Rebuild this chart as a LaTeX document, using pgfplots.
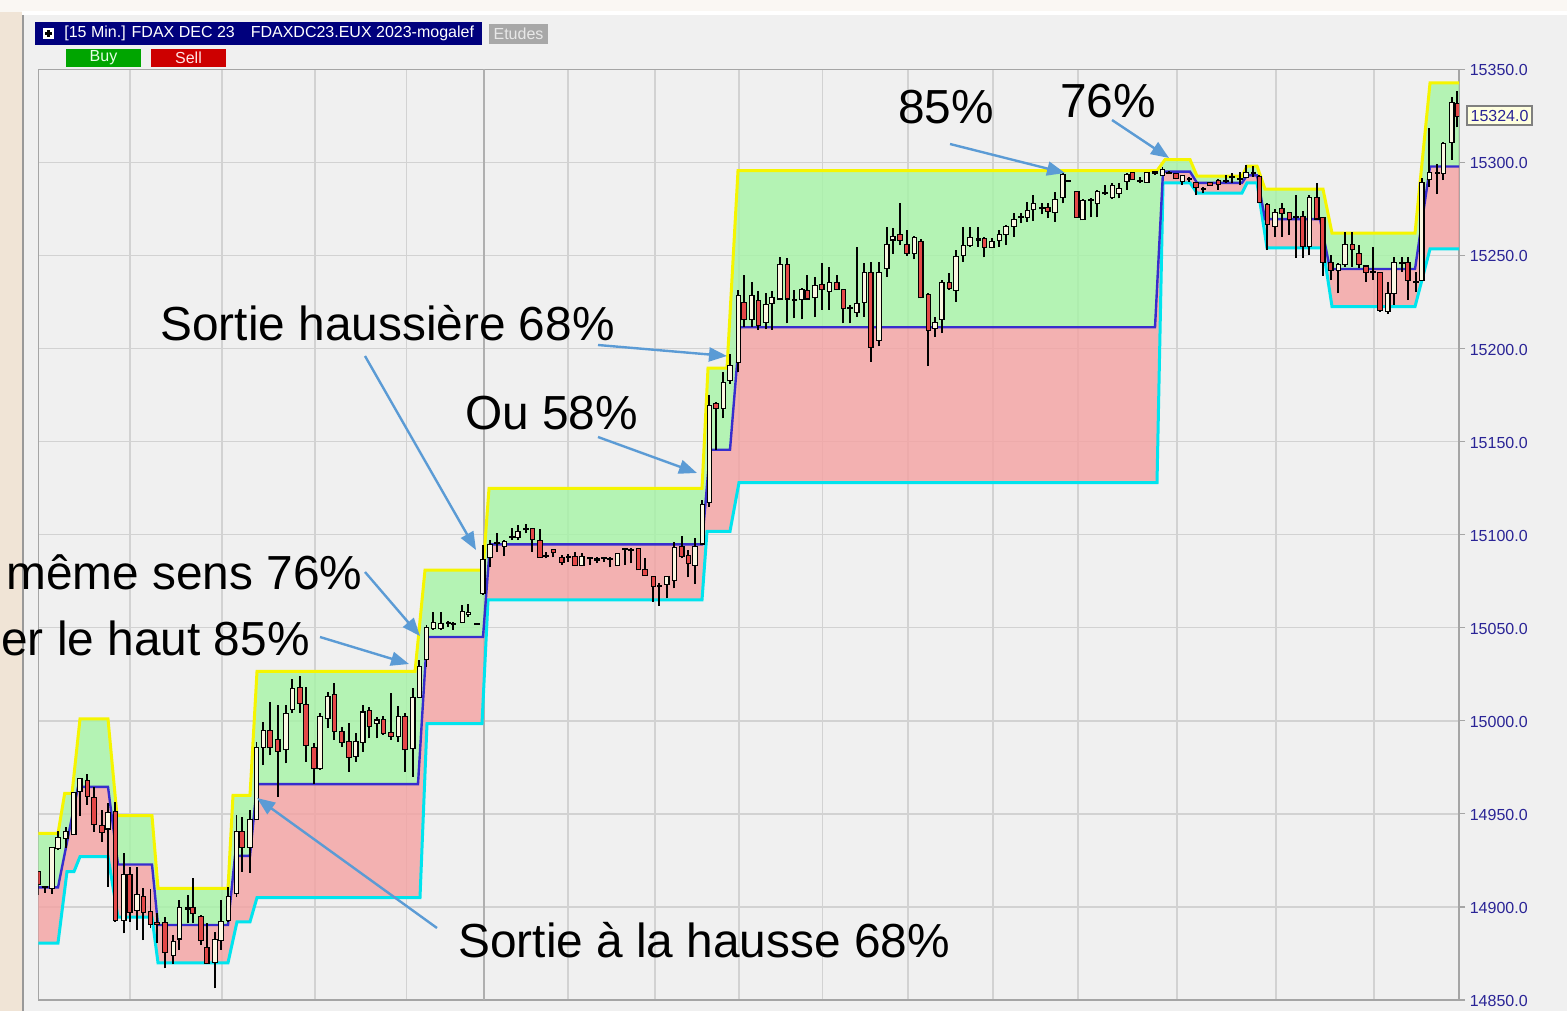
\documentclass[border=0pt]{standalone}
\usepackage{pgfplots}
\pgfplotsset{compat=1.18}
\usepackage{pgfplotstable}
\usetikzlibrary{arrows.meta}
\usepackage{fontspec}
\setmainfont{Liberation Sans}

\definecolor{outerbg}{RGB}{240,228,214}
\definecolor{bgpanel}{RGB}{240,240,240}
\definecolor{gridgray}{RGB}{210,210,210}
\definecolor{daygray}{RGB}{175,175,175}
\definecolor{bordergray}{RGB}{165,165,165}
\definecolor{greenfill}{RGB}{165,244,165}
\definecolor{redfill}{RGB}{244,162,162}
\definecolor{yel}{RGB}{245,245,0}
\definecolor{bandblue}{RGB}{55,45,205}
\definecolor{bandcyan}{RGB}{0,228,238}
\definecolor{cream}{RGB}{250,247,226}
\definecolor{candred}{RGB}{228,72,72}
\definecolor{tickblue}{RGB}{42,36,150}
\definecolor{arrowblue}{RGB}{91,155,213}
\definecolor{navyhead}{RGB}{0,0,125}
\definecolor{etudesgray}{RGB}{168,168,168}
\definecolor{etudestext}{RGB}{232,232,232}
\definecolor{buygreen}{RGB}{0,165,0}
\definecolor{sellred}{RGB}{205,0,0}
\definecolor{pricebox}{RGB}{255,255,222}

% upper band (yellow)
\pgfplotstableread{
x y
38.3 14939.5
58 14939.5
64.7 14961
72 14961
80 15001
108 15001
117 14949
152 14949
158 14910
228 14910
233 14960
250 14960
257 15026.5
415 15026.5
425 15081
483 15081
489 15124.8
702 15124.8
708 15189.5
727 15189.5
738 15295.5
1157 15295.5
1165 15301.5
1190 15301.5
1197 15292.6
1242 15292.6
1247 15298
1257 15298
1265 15285.6
1323 15285.6
1332 15262
1415 15262
1430 15342.7
1459 15342.7
}\yellowband

% middle band (blue)
\pgfplotstableread{
x y
38.3 14910.5
58 14910.5
78 14964.5
108 14964.5
118 14922.8
152 14922.8
158 14890.3
228 14890.3
235 14927.4
250 14927.4
257 14966
418 14966
427 15045
483 15045
490 15094.8
702 15094.8
710 15145.6
730 15145.6
740 15211.4
1155 15211.4
1163 15295
1190 15295
1197 15289
1242 15289
1247 15293
1257 15293
1265 15269.5
1320 15269.5
1330 15242.7
1415 15242.7
1430 15297.8
1459 15297.8
}\blueband

% lower band (cyan)
\pgfplotstableread{
x y
38.3 14880.6
58 14880.6
67 14919
74 14919
80 14927
108 14927
118 14894.5
152 14894.5
158 14870
228 14870
237 14892
250 14892
257 14905
420 14905
427 14998.5
482 14998.5
488 15064.9
702 15064.9
707 15101.8
730 15101.8
739 15128
1157 15128
1163 15289
1190 15289
1197 15283.5
1242 15283.5
1247 15289
1257 15289
1267 15254
1323 15254
1332 15222.5
1415 15222.5
1430 15253.5
1459 15253.5
}\cyanband

% green zone: yellow band forward, blue band back
\pgfplotstableread{
x y
38.3 14939.5
58 14939.5
64.7 14961
72 14961
80 15001
108 15001
117 14949
152 14949
158 14910
228 14910
233 14960
250 14960
257 15026.5
415 15026.5
425 15081
483 15081
489 15124.8
702 15124.8
708 15189.5
727 15189.5
738 15295.5
1157 15295.5
1165 15301.5
1190 15301.5
1197 15292.6
1242 15292.6
1247 15298
1257 15298
1265 15285.6
1323 15285.6
1332 15262
1415 15262
1430 15342.7
1459 15342.7
1459 15297.8
1430 15297.8
1415 15242.7
1330 15242.7
1320 15269.5
1265 15269.5
1257 15293
1247 15293
1242 15289
1197 15289
1190 15295
1163 15295
1155 15211.4
740 15211.4
730 15145.6
710 15145.6
702 15094.8
490 15094.8
483 15045
427 15045
418 14966
257 14966
250 14927.4
235 14927.4
228 14890.3
158 14890.3
152 14922.8
118 14922.8
108 14964.5
78 14964.5
58 14910.5
38.3 14910.5
}\greenzone

% red zone: blue band forward, cyan band back
\pgfplotstableread{
x y
38.3 14910.5
58 14910.5
78 14964.5
108 14964.5
118 14922.8
152 14922.8
158 14890.3
228 14890.3
235 14927.4
250 14927.4
257 14966
418 14966
427 15045
483 15045
490 15094.8
702 15094.8
710 15145.6
730 15145.6
740 15211.4
1155 15211.4
1163 15295
1190 15295
1197 15289
1242 15289
1247 15293
1257 15293
1265 15269.5
1320 15269.5
1330 15242.7
1415 15242.7
1430 15297.8
1459 15297.8
1459 15253.5
1430 15253.5
1415 15222.5
1332 15222.5
1323 15254
1267 15254
1257 15289
1247 15289
1242 15283.5
1197 15283.5
1190 15289
1163 15289
1157 15128
739 15128
730 15101.8
707 15101.8
702 15064.9
488 15064.9
482 14998.5
427 14998.5
420 14905
257 14905
250 14892
237 14892
228 14870
158 14870
152 14894.5
118 14894.5
108 14927
80 14927
74 14919
67 14919
58 14880.6
38.3 14880.6
}\redzone

\pgfplotstableread{
x o h l c
38.3 14918.6 14919.3 14906.4 14912.3
44.7 14910.7 14911.5 14907.5 14910.7
52 14910.3 14932.1 14907.0 14931.5
58 14931.5 14940.8 14930.5 14937.2
65.7 14937.2 14943.1 14931.7 14940.4
73.7 14939.2 14961.9 14938.6 14961.4
79.7 14962.3 14969.1 14948.8 14968.7
87.3 14967.8 14971.4 14954.8 14959.6
94 14958.7 14964.6 14940.4 14944.5
102 14943.6 14952.0 14935.1 14940.4
108 14942.2 14955.7 14910.9 14950.3
115.3 14951.2 14956.5 14892.1 14893.0
123.7 14893.0 14928.8 14885.8 14917.1
129.7 14917.1 14921.4 14892.1 14897.4
137 14898.3 14921.6 14887.6 14906.4
143.3 14905.5 14910.0 14882.2 14897.4
150.5 14897.4 14909.5 14888.5 14890.8
157 14891.5 14896.6 14880.5 14891.0
165 14891.2 14894.7 14867.0 14875.6
173.3 14874.2 14884.9 14869.3 14881.3
179.3 14883.1 14903.7 14876.9 14899.2
187.7 14899.2 14906.4 14891.2 14899.2
192.7 14899.2 14915.4 14891.2 14896.6
201 14894.5 14895.7 14879.5 14882.2
206.7 14877.8 14891.2 14869.3 14870.0
215 14870.6 14886.7 14856.3 14882.2
221 14882.2 14903.7 14876.9 14892.1
228.3 14893.0 14910.9 14892.1 14905.5
236.5 14907.3 14949.4 14905.5 14940.4
242 14940.4 14948.5 14918.9 14932.4
250 14932.4 14952.1 14918.4 14946.7
256.5 14947.1 14988.8 14946.7 14985.2
263.3 14986.1 14999.5 14976.2 14994.7
270 14994.7 15010.2 14981.6 14985.8
277.7 14989.7 15008.5 14959.2 14983.8
286 14984.7 15008.5 14977.1 15003.6
292.3 15006.2 15022.3 15004.0 15016.9
300 15017.8 15024.1 15004.4 15009.7
306 15008.5 15018.3 14978.0 14987.0
314 14985.2 14987.9 14966.0 14974.5
320 14974.5 15004.0 14973.6 15002.2
327.7 15001.3 15015.6 14996.0 15012.9
334.3 15013.8 15020.1 14989.7 14994.7
341.7 14993.8 14996.8 14986.1 14988.8
349 14988.8 14999.0 14972.6 14980.7
355.7 14981.1 14993.3 14978.0 14988.8
362.7 14988.8 15008.5 14983.4 15004.4
369.3 15005.4 15007.5 14990.6 14997.2
376.7 14999.0 15002.2 14990.6 15000.1
383.3 15000.4 15002.5 14992.4 14993.6
391 14993.6 15015.1 14989.7 14992.0
398.3 14991.8 15007.9 14988.8 15001.9
405 15001.9 15004.0 14972.6 14984.7
412.7 14985.2 15017.5 14970.0 15012.1
419.3 15012.9 15032.6 15012.2 15029.1
426.5 15033.0 15051.5 15028.9 15049.8
433.3 15049.7 15058.6 15048.8 15052.4
440.7 15049.7 15058.6 15048.8 15052.0
448.3 15052.7 15053.8 15050.5 15052.7
453.3 15052.0 15053.2 15048.8 15052.0
462.3 15053.2 15062.2 15052.4 15058.6
468.3 15057.4 15062.7 15056.0 15057.9
476.7 15052.0 15052.6 15051.5 15052.0
482.7 15068.5 15094.4 15067.6 15086.4
490 15087.8 15097.1 15082.4 15094.4
496.7 15095.6 15101.0 15090.8 15095.6
504.3 15093.9 15097.1 15088.5 15096.2
511.7 15098.6 15103.4 15097.1 15098.6
517.7 15098.6 15105.2 15097.1 15101.6
526 15102.9 15105.7 15100.7 15102.9
532.3 15102.9 15103.4 15090.8 15097.5
540 15096.7 15102.9 15087.8 15088.1
546 15088.5 15090.8 15087.3 15088.5
553.3 15091.9 15091.9 15087.8 15090.5
561.7 15087.6 15089.0 15083.7 15085.4
568.3 15088.1 15089.6 15085.4 15088.1
575 15087.8 15090.8 15083.1 15083.7
581.7 15083.7 15090.0 15083.1 15087.8
590 15087.3 15088.1 15083.7 15087.3
596.7 15086.7 15088.1 15084.6 15086.7
604 15087.6 15088.1 15085.4 15087.6
610 15087.1 15087.8 15082.4 15087.1
617.3 15083.7 15090.0 15083.1 15089.6
625 15092.1 15092.6 15083.7 15092.1
630.7 15091.9 15092.6 15084.6 15091.9
638.3 15092.1 15092.1 15081.0 15081.4
645 15081.0 15087.3 15077.8 15078.3
653.3 15077.4 15077.8 15064.0 15072.4
659.3 15072.4 15073.9 15061.6 15072.4
666.7 15073.5 15077.4 15065.8 15077.1
674.3 15075.6 15096.2 15071.2 15092.6
681.7 15093.5 15099.3 15087.3 15088.5
688.3 15088.5 15091.7 15077.1 15084.6
695 15083.7 15098.0 15073.5 15093.5
702.3 15095.3 15118.6 15094.4 15115.9
709.3 15117.7 15175.0 15115.0 15169.1
716 15170.2 15171.2 15145.4 15167.9
723.3 15168.2 15187.5 15162.5 15181.6
730 15183.0 15197.0 15181.2 15190.6
738.3 15192.9 15231.4 15187.5 15228.2
744 15224.3 15239.5 15211.7 15215.7
751.7 15215.7 15235.9 15211.7 15228.2
758.3 15225.7 15231.0 15210.0 15212.6
766 15214.4 15229.6 15210.3 15223.4
771.7 15224.6 15231.0 15210.0 15226.9
780 15226.9 15249.3 15226.0 15244.9
787.3 15244.9 15248.4 15213.5 15226.9
794.3 15226.0 15231.4 15216.2 15226.0
801.7 15226.5 15232.3 15215.7 15231.4
807.3 15230.9 15239.5 15226.0 15226.9
815 15227.5 15238.6 15216.8 15233.6
821.7 15234.1 15246.1 15220.7 15231.8
829.3 15230.9 15243.6 15220.7 15235.0
836.7 15235.0 15239.5 15231.4 15231.8
843.3 15231.4 15231.8 15213.5 15221.6
850 15221.6 15223.4 15213.5 15221.6
856.7 15219.7 15254.4 15216.8 15223.9
864.3 15225.1 15246.1 15217.1 15240.7
870.7 15240.7 15246.6 15192.8 15201.0
879 15204.6 15246.6 15201.3 15240.7
886.7 15243.1 15265.4 15238.6 15255.6
892.7 15258.6 15264.6 15250.8 15260.0
900 15261.0 15278.0 15255.6 15258.3
906.7 15255.6 15263.7 15249.7 15251.5
914.3 15251.5 15260.4 15247.9 15259.2
920.7 15257.4 15258.6 15226.9 15227.5
928.3 15228.7 15229.6 15190.6 15210.0
935 15211.2 15217.1 15206.4 15213.9
941.7 15215.8 15236.8 15208.2 15235.0
949.3 15235.0 15240.7 15231.4 15232.6
956 15231.4 15252.9 15225.1 15249.3
963.3 15250.2 15265.1 15246.6 15255.0
970 15255.6 15265.4 15254.7 15259.2
978.3 15258.6 15265.1 15254.7 15258.6
984.3 15259.0 15260.1 15249.0 15254.7
991.7 15254.7 15259.2 15253.8 15257.4
999.3 15258.3 15263.7 15254.7 15261.0
1006 15261.5 15266.4 15255.6 15265.1
1014 15265.8 15272.6 15260.1 15269.0
1020.7 15270.5 15272.6 15267.3 15270.5
1027.3 15270.8 15278.9 15268.1 15274.0
1033.3 15274.8 15282.4 15268.7 15277.5
1041.7 15275.3 15278.3 15272.2 15275.3
1047.7 15275.6 15278.0 15270.0 15274.0
1055 15273.5 15284.2 15268.1 15279.8
1062.7 15281.2 15295.0 15278.0 15293.2
1068.3 15290.1 15290.5 15289.6 15290.1
1076.7 15284.2 15284.2 15270.5 15270.8
1082.7 15269.4 15280.2 15269.0 15279.4
1090.7 15279.8 15280.7 15270.5 15279.8
1097.3 15278.0 15285.2 15270.5 15284.2
1105 15283.4 15287.8 15282.4 15283.4
1112.3 15281.2 15288.7 15280.2 15287.3
1119 15283.4 15288.7 15280.7 15285.5
1126.7 15290.1 15294.1 15285.2 15293.2
1132.3 15294.1 15295.0 15290.5 15290.9
1140 15290.1 15292.3 15288.7 15290.1
1146.7 15289.6 15294.5 15289.1 15294.1
1155 15294.6 15295.3 15293.2 15294.6
1162.5 15293.2 15297.7 15292.7 15295.9
1169 15294.4 15295.3 15294.0 15294.4
1176 15293.6 15294.4 15290.9 15291.4
1182.3 15290.1 15293.2 15287.8 15292.6
1189.3 15290.9 15292.3 15289.6 15290.9
1196 15289.1 15289.6 15282.4 15286.6
1203.3 15285.5 15287.0 15283.4 15285.5
1210 15289.1 15289.1 15287.3 15287.8
1218.3 15290.1 15290.9 15285.2 15288.3
1226 15290.1 15293.2 15288.7 15290.1
1231.7 15292.0 15294.1 15289.1 15292.0
1240 15290.9 15295.0 15287.8 15290.9
1246 15292.0 15298.6 15291.4 15294.1
1253.3 15294.1 15298.0 15292.3 15294.1
1259.3 15292.3 15293.2 15278.3 15278.9
1267.3 15277.1 15278.0 15252.9 15266.9
1275 15265.8 15274.8 15260.1 15272.9
1281.7 15274.8 15278.3 15260.1 15272.9
1289.3 15272.9 15272.9 15261.0 15269.4
1296 15270.5 15282.4 15248.5 15270.5
1302.7 15270.8 15273.9 15248.5 15255.0
1309.3 15255.0 15282.4 15250.2 15280.7
1316.7 15280.7 15288.7 15269.4 15269.9
1322.7 15270.0 15270.8 15239.0 15246.6
1330.7 15245.8 15250.2 15236.8 15242.2
1338.3 15242.2 15245.8 15229.6 15244.9
1345 15245.4 15262.7 15244.0 15255.6
1352.3 15255.6 15262.7 15244.0 15253.3
1359 15250.8 15255.6 15243.1 15245.4
1366 15244.0 15244.3 15235.9 15241.3
1372.7 15241.3 15254.7 15236.8 15241.3
1380 15240.7 15241.3 15219.8 15220.7
1387.7 15220.3 15235.9 15218.5 15229.2
1394 15230.0 15249.3 15223.4 15245.8
1401.7 15245.8 15249.0 15241.3 15245.8
1407.7 15246.1 15249.3 15226.0 15236.8
1415.7 15235.9 15241.3 15230.5 15235.9
1421.7 15236.8 15291.4 15236.4 15289.1
1429.3 15290.9 15318.3 15287.0 15294.1
1437.3 15294.4 15299.1 15283.0 15294.4
1443.3 15294.4 15310.9 15290.5 15309.8
1451.7 15311.1 15334.9 15301.3 15331.7
1457.3 15331.4 15338.5 15318.8 15324.9
}\candles

\pgfplotsset{chartbase/.style={
  scale only axis, width=710.35pt, height=465.35pt,
  at={(19.15pt,-500pt)}, anchor=south west,
  xmin=38.3, xmax=1459, ymin=14850, ymax=15350,
  enlargelimits=false},
  candlebar/.style={draw=none, mark=none, forget plot,
    error bars/.cd, y dir=plus, y explicit, error mark=none,
    error bar style={line cap=butt, #1}}}

\begin{document}
\begin{tikzpicture}
\begin{scope}[x=0.5pt,y=-0.5pt]
  \fill[outerbg] (0,0) rectangle (1567,1011);
  \fill[white!70!outerbg] (0,0) rectangle (1567,12);
  \fill[bgpanel] (22,12) rectangle (1567,1011);
  \fill[gray!12] (22,1003) rectangle (1567,1011);
  \draw[gray!80, line width=1pt] (22.5,12) -- (22.5,1011);
  \draw[white, line width=2pt] (22,13) -- (1567,13);
  % header
  \fill[navyhead] (35,22) rectangle (482,45);
  \fill[white] (43,28) rectangle (54,39);
  \draw[black, line width=1.1pt] (45.2,33.5) -- (51.8,33.5) (48.5,30.2) -- (48.5,36.8);
  \node[anchor=west, text=white, font=\fontsize{8}{9}\selectfont, inner sep=0] at (64,33.5) {[15 Min.] FDAX DEC 23\quad FDAXDC23.EUX 2023-mogalef};
  \fill[etudesgray] (489,24) rectangle (548,44);
  \node[text=etudestext, font=\fontsize{8}{9}\selectfont, inner sep=0] at (518.5,34) {Etudes};
  \fill[buygreen] (66,49) rectangle (141,67);
  \node[text=white!90!green, font=\fontsize{8}{9}\selectfont, inner sep=0] at (103.5,58) {Buy};
  \fill[sellred] (151,49) rectangle (226,67);
  \node[text=white!90!red, font=\fontsize{8}{9}\selectfont, inner sep=0] at (188.5,58) {Sell};
\end{scope}

% axis 1: grid and ticks
\begin{axis}[chartbase,
  axis line style={draw=bordergray, line width=0.6pt},
  xtick={130,222,315,406.5,484,568,655,739,822.5,908,993,1078,1177,1276,1374},
  xticklabels={}, xtick style={draw=none},
  ytick={14850,14900,14950,15000,15050,15100,15150,15200,15250,15300,15350},
  scaled y ticks=false,
  ytick pos=right, yticklabel pos=right,
  tick align=outside, major tick length=3pt,
  ytick style={draw=bordergray, line width=0.6pt},
  xmajorgrids, ymajorgrids,
  grid style={draw=gridgray, line width=0.75pt},
  yticklabel style={font=\fontsize{8}{9}\selectfont, text=tickblue, inner sep=1.2pt, xshift=1pt, yshift=-0.5pt,
    /pgf/number format/.cd, fixed, fixed zerofill, precision=1, 1000 sep={}, assume math mode=true}]
  \addplot[daygray, line width=0.9pt, forget plot] coordinates {(484,14850) (484,15350)};
\end{axis}

% axis 2: zones and band lines
\begin{axis}[chartbase, hide axis]
  \addplot[fill=greenfill, fill opacity=0.8, draw=none] table {\greenzone};
  \addplot[fill=redfill, fill opacity=0.8, draw=none] table {\redzone};
  \addplot[bandcyan, line width=1.5pt] table {\cyanband};
  \addplot[yel, line width=1.5pt] table {\yellowband};
  \addplot[bandblue, line width=1.2pt] table {\blueband};
\end{axis}

% axis 3: candles
\begin{axis}[chartbase, hide axis]
  \addplot[candlebar={draw=black, line width=0.9pt}]
    table[x=x, y=l, y error expr={\thisrow{h}-\thisrow{l}}] {\candles};
  \addplot[candlebar={draw=black, line width=2.8pt}]
    table[x=x, y expr={min(\thisrow{o},\thisrow{c})-0.6}, y error expr={abs(\thisrow{c}-\thisrow{o})+1.2}] {\candles};
  \addplot[candlebar={draw=cream, line width=1.7pt}]
    table[x=x, y=o, y error expr={max(\thisrow{c}-\thisrow{o},0)}] {\candles};
  \addplot[candlebar={draw=candred, line width=1.7pt}]
    table[x=x, y=c, y error expr={max(\thisrow{o}-\thisrow{c},0)}] {\candles};
\end{axis}

\begin{scope}[x=0.5pt,y=-0.5pt]
  \draw[fill=pricebox, draw=gray, line width=0.6pt] (1467,106) rectangle (1532,125);
  \node[text=tickblue, font=\fontsize{8}{9}\selectfont, inner sep=0] at (1499.5,115.8) {15324.0};
  \begin{scope}[font=\fontsize{23.9}{28}\selectfont]
    \node[anchor=base west, inner sep=0] at (898,124) {85\%};
    \node[anchor=base west, inner sep=0] at (1060,118) {76\%};
    \node[anchor=base west, inner sep=0] at (160,340) {Sortie haussière 68\%};
    \node[anchor=base west, inner sep=0] at (465,429) {Ou 58\%};
    \node[anchor=base west, inner sep=0] at (6,589) {même sens 76\%};
    \node[anchor=base west, inner sep=0] at (1,655) {er le haut 85\%};
    \node[anchor=base west, inner sep=0] at (458,957) {Sortie à la hausse 68\%};
  \end{scope}
  \begin{scope}[arrowblue, line width=1.2pt, -{Triangle[length=9pt, width=7pt]}]
    \draw (950,144) -- (1065,173);
    \draw (1112,120) -- (1169,158);
    \draw (598,345) -- (727,356);
    \draw (365,356) -- (476,550);
    \draw (598,437) -- (697,473);
    \draw (365,572) -- (420,636);
    \draw (320,637) -- (409,664);
    \draw (437,928) -- (257,798);
  \end{scope}
\end{scope}
\pgfresetboundingbox
\useasboundingbox (0pt,0pt) rectangle (783.5pt,-505.5pt);
\end{tikzpicture}
\end{document}
